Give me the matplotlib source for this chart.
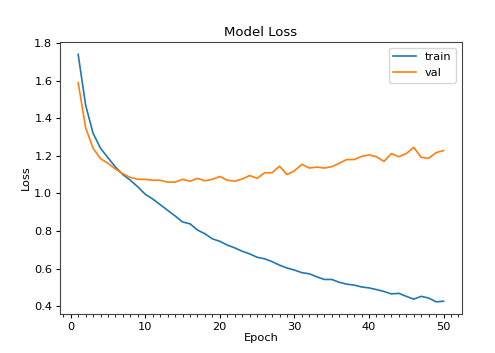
import matplotlib
matplotlib.use("Agg")
import matplotlib.pyplot as plt
from matplotlib.ticker import MultipleLocator

epochs = list(range(1, 51))
train_loss = [1.74, 1.47, 1.32, 1.24, 1.19, 1.14, 1.10, 1.07, 1.035, 0.995,
              0.97, 0.94, 0.91, 0.88, 0.848, 0.838, 0.805, 0.785, 0.758, 0.745,
              0.725, 0.71, 0.692, 0.678, 0.66, 0.652, 0.637, 0.618, 0.603, 0.592,
              0.578, 0.572, 0.556, 0.542, 0.542, 0.527, 0.517, 0.512, 0.502, 0.497,
              0.488, 0.478, 0.465, 0.468, 0.452, 0.437, 0.452, 0.443, 0.423, 0.426]
val_loss = [1.59, 1.35, 1.24, 1.185, 1.16, 1.13, 1.105, 1.085, 1.075, 1.075,
            1.07, 1.07, 1.06, 1.06, 1.075, 1.065, 1.08, 1.067, 1.075, 1.09,
            1.07, 1.065, 1.077, 1.095, 1.08, 1.11, 1.11, 1.145, 1.10, 1.12,
            1.155, 1.135, 1.14, 1.135, 1.142, 1.16, 1.18, 1.18, 1.197, 1.205,
            1.195, 1.17, 1.212, 1.195, 1.212, 1.245, 1.192, 1.187, 1.217, 1.228]

plt.rcParams['font.size'] = 8.2
plt.rcParams['xtick.major.size'] = 3
plt.rcParams['ytick.major.size'] = 3
plt.rcParams['xtick.minor.size'] = 1.8

fig = plt.figure(figsize=(4.95, 3.53), dpi=100)
ax = fig.add_axes([0.121, 0.11, 0.812, 0.771])
ax.plot(epochs, train_loss, label='train', linewidth=1.2)
ax.plot(epochs, val_loss, label='val', linewidth=1.2)
ax.set_title('Model Loss', fontsize=9.5, pad=4)
ax.set_xlabel('Epoch', labelpad=1)
ax.set_ylabel('Loss', labelpad=2)
ax.tick_params(axis='both', pad=2.5)
ax.set_yticks([0.4, 0.6, 0.8, 1.0, 1.2, 1.4, 1.6, 1.8])
ax.xaxis.set_minor_locator(MultipleLocator(1))
for s in ax.spines.values():
    s.set_color('#444444')
ax.legend(loc='upper right')
fig.savefig('out.png', dpi=100)
